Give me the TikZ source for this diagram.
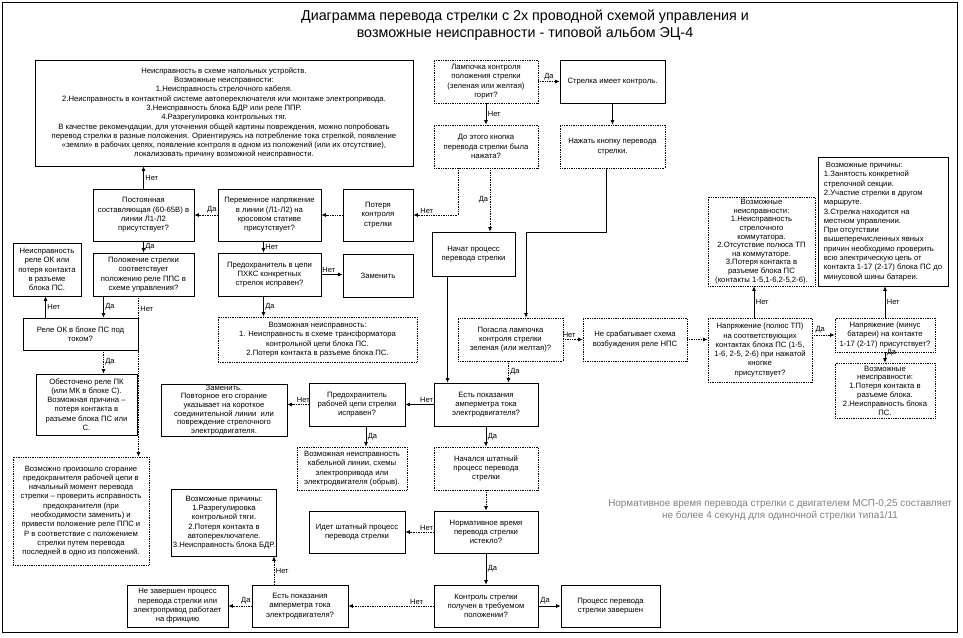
\documentclass[tikz,border=0pt]{standalone}
\usepackage{fontspec}
\setmainfont{Liberation Sans}
\usetikzlibrary{arrows.meta,calc}
\newcommand\bx[7]{%
 \pgfmathsetmacro\bxw{#4-#2}\pgfmathsetmacro\bxh{#5-#3}%
 \node[#6, minimum width=\bxw pt, minimum height=\bxh pt] (#1) at ({(#2+#4)/2},{(#3+#5)/2}) {#7};}
\begin{document}
\begin{tikzpicture}[x=1pt,y=-1pt,
  every node/.style={font=\fontsize{7.7}{9.3}\selectfont},
  sbox/.style={draw, line width=0.75pt, align=center, inner sep=1pt},
  dbox/.style={draw, line width=0.75pt, densely dotted, align=center, inner sep=1pt},
  sarr/.style={line width=0.7pt, -{Latex[length=4.5pt,width=4pt]}},
  darr/.style={line width=0.7pt, densely dotted, -{Latex[length=4.5pt,width=4pt]}},
  lab/.style={font=\fontsize{7.5}{8}\selectfont, inner sep=1.5pt}]
\useasboundingbox (0,0) rectangle (963,637);
\draw[line width=0.8pt] (2,2) rectangle (957,632);
\node[font=\fontsize{14.3}{16.5}\selectfont, align=center] (title) at (525,25) {Диаграмма перевода стрелки с 2х проводной схемой управления и\\возможные неисправности - типовой альбом ЭЦ-4};

\bx{A}{35}{60}{413}{166}{sbox}{Неисправность в схеме напольных устройств.\\Возможные неисправности:\\1.Неисправность стрелочного кабеля.\\2.Неисправность в контактной системе автопереключателя или монтаже электропривода.\\3.Неисправность блока БДР или реле ППР.\\4.Разрегулировка контрольных тяг.\\В качестве рекомендации, для уточнения общей картины повреждения, можно попробовать\\перевод стрелки в разные положения. Ориентируясь на потребление тока стрелкой, появление\\«земли» в рабочих цепях, появление контроля в одном из положений (или их отсутствие),\\локализовать причину возможной неисправности.}
\bx{Z1}{434}{60}{538}{103}{dbox}{Лампочка контроля\\положения стрелки\\(зеленая или желтая)\\горит?}
\bx{Z2}{560}{60}{665}{103}{sbox}{Стрелка имеет контроль.}
\bx{Z3}{434}{125}{538}{168}{dbox}{До этого кнопка\\перевода стрелки была\\нажата?}
\bx{Z4}{560}{125}{665}{168}{dbox}{Нажать кнопку перевода\\стрелки.}
\bx{B}{93}{189}{194}{241}{sbox}{Постоянная\\составляющая (60-65В) в\\линии Л1-Л2\\присутствует?}
\bx{C}{218}{189}{321}{241}{sbox}{Переменное напряжение\\в линии (Л1-Л2) на\\кросовом стативе\\присутствует?}
\bx{D}{343}{189}{413}{241}{sbox}{Потеря\\контроля\\стрелки}
\bx{AA}{432}{232}{515}{276}{sbox}{Начат процесс\\перевода стрелки}
\bx{E}{13}{243}{81}{296}{sbox}{Неисправность\\реле ОК или\\потеря контакта\\в разъеме\\блока ПС.}
\bx{F}{93}{253}{194}{296}{sbox}{Положение стрелки\\соответствует\\положению реле ППС в\\схеме управления?}
\bx{G}{218}{253}{321}{296}{sbox}{Предохранитель в цепи\\ПХКС конкретных\\стрелок исправен?}
\bx{H}{343}{254}{413}{297}{sbox}{Заменить}
\bx{I}{23}{318}{138}{350}{sbox}{Реле ОК в блоке ПС под\\током?}
\bx{J}{218}{317}{417}{362}{dbox}{Возможная неисправность:\\1. Неисправность в схеме трансформатора\\контрольной цепи блока ПС.\\2.Потеря контакта в разъеме блока ПС.}
\bx{O}{458}{318}{563}{361}{dbox}{Погасла лампочка\\контроля стрелки\\зеленая (или желтая)?}
\bx{P}{583}{318}{687}{361}{dbox}{Не срабатывает схема\\возбуждения реле НПС}
\bx{BB}{708}{318}{812}{382}{dbox}{Напряжение (полюс ТП)\\на соответствующих\\контактах блока ПС (1-5,\\1-6, 2-5, 2-6) при нажатой\\кнопке\\присутствует?}
\bx{CC}{708}{197}{815}{286}{dbox, font=\fontsize{7.7}{8.6}\selectfont}{Возможные\\неисправности:\\1.Неисправность\\стрелочного\\коммутатора.\\2.Отсутствие полюса ТП\\на коммутаторе.\\3.Потеря контакта в\\разъеме блока ПС\\(контакты 1-5,1-6,2-5,2-6).}
\bx{DD}{835}{318}{935}{352}{dbox}{Напряжение (минус\\батареи) на контакте\\1-17 (2-17) присутствует?}
\bx{EE}{818}{157}{948}{286}{sbox, align=left}{\hspace*{2pt}Возможные причины:\\1.Занятость конкретной\\стрелочной секции.\\2.Участие стрелки в другом\\маршруте.\\3.Стрелка находится на\\местном управлении.\\При отсутствии\\вышеперечисленных явных\\причин необходимо проверить\\всю электрическую цепь от\\контакта 1-17 (2-17) блока ПС до\\минусовой шины батареи.}
\bx{FF}{835}{363}{935}{418}{dbox, font=\fontsize{7.7}{8.8}\selectfont}{Возможные\\неисправности:\\1.Потеря контакта в\\разъеме блока.\\2.Неисправность блока\\ПС.}
\bx{K}{36}{374}{137}{435}{sbox}{Обесточено реле ПК\\(или МК в блоке С).\\Возможная причина –\\потеря контакта в\\разъеме блока ПС или\\С.}
\bx{L}{161}{384}{287}{436}{sbox, font=\fontsize{7.7}{8.6}\selectfont}{Заменить.\\Повторное его сгорание\\указывает на короткое\\соединительной линии~ или\\повреждение стрелочного\\электродвигателя.}
\bx{M}{309}{383}{405}{426}{sbox}{Предохранитель\\рабочей цепи стрелки\\исправен?}
\bx{N}{434}{383}{538}{426}{sbox}{Есть показания\\амперметра тока\\электродвигателя?}
\bx{Q}{297}{447}{407}{490}{dbox}{Возможная неисправность\\кабельной линии, схемы\\электропривода или\\электродвигателя (обрыв).}
\bx{R}{434}{447}{538}{490}{dbox}{Начался штатный\\процесс перевода\\стрелки}
\bx{GG}{13}{457}{149}{565}{dbox}{Возможно произошло сгорание\\предохранителя рабочей цепи в\\начальный момент перевода\\стрелки – проверить исправность\\предохранителя (при\\необходимости заменить) и\\привести положение реле ППС и\\Р в соответствие с положением\\стрелки путем перевода\\последней в одно из положений.}
\bx{S}{172}{489}{276}{556}{sbox}{Возможные причины:\\1.Разрегулировка\\контрольной тяги.\\2.Потеря контакта в\\автопереключателе.\\3.Неисправность блока БДР.}
\bx{T}{309}{511}{405}{553}{sbox}{Идет штатный процесс\\перевода стрелки}
\bx{U}{434}{511}{538}{553}{sbox}{Нормативное время\\перевода стрелки\\истекло?}
\bx{V}{434}{585}{538}{627}{sbox}{Контроль стрелки\\получен в требуемом\\положении?}
\bx{W}{561}{585}{660}{627}{sbox}{Процесс перевода\\стрелки завершен}
\bx{X}{252}{585}{348}{627}{sbox}{Есть показания\\амперметра тока\\электродвигателя?}
\bx{Y}{127}{585}{228}{627}{sbox}{Не завершен процесс\\перевода стрелки или\\электропривод работает\\на фрикцию}
\node[font=\fontsize{9.9}{12.5}\selectfont, text=black!50, align=center] (note) at (780,510) {Нормативное время перевода стрелки с двигателем МСП-0,25 составляет\\не более 4 секунд для одиночной стрелки типа1/11};

% connectors
\draw[darr] (Z1.east) -- node[lab,above]{Да} (Z2.west);
\draw[sarr] (Z1.south) -- node[lab,right]{Нет} (Z3.north);
\draw[sarr] (Z2.south) -- (Z4.north);
\coordinate (z3a) at ([xshift=-28pt]Z3.south);
\draw[darr] (z3a) |- node[lab,above,pos=0.85]{Нет} (D.east);
\coordinate (z3b) at ([xshift=4pt]Z3.south);
\draw[darr] (z3b) -- node[lab,left]{Да} (z3b |- AA.north);
\coordinate (z4a) at ([xshift=-6pt]Z4.south);
\coordinate (bend1) at (526,232);
\draw[sarr] (z4a) |- (bend1) -- (bend1 |- O.north);
\coordinate (aa1) at ([xshift=-26pt]AA.south);
\draw[sarr] (aa1) -- (aa1 |- N.north);
\coordinate (o1) at ([xshift=-2pt]O.south);
\draw[darr] (o1) -- node[lab,right]{Да} (o1 |- N.north);
\draw[darr] (O.east) -- node[lab,above,pos=0.3]{Нет} (P.west);
\draw[darr] (P.east) -- (P.east -| BB.west);
\coordinate (bb1) at ([xshift=-6pt]BB.north);
\draw[sarr] (bb1) -- node[lab,right]{Нет} (bb1 |- CC.south);
\coordinate (dd1) at (DD.west -| BB.east);
\draw[darr] (dd1) -- node[lab,above,pos=0.35]{Да} (DD.west);
\draw[sarr] (DD.north) -- node[lab,right]{Нет} (DD.north |- EE.south);
\draw[sarr] (DD.south) -- node[lab,right,pos=0.1,yshift=1pt]{Да} (FF.north);

\draw[darr] (D.west) -- (C.east);
\draw[darr] (C.west) -- node[lab,above,pos=0.25]{Да} (B.east);
\draw[sarr] (B.north) -- node[lab,right]{Нет} (B.north |- A.south);
\draw[sarr] (B.south) -- node[lab,right]{Да} (F.north);
\coordinate (c1) at ([xshift=-6pt]C.south);
\draw[sarr] (c1) -- node[lab,right]{Нет} (c1 |- G.north);
\draw[sarr] (G.east) -- node[lab,above,pos=0.35]{Нет} (G.east -| H.west);
\coordinate (g1) at ([xshift=-6pt]G.south);
\draw[sarr] (g1) -- node[lab,right]{Да} (g1 |- J.north);
\coordinate (f1) at ([xshift=-40pt]F.south);
\draw[sarr] (f1) -- node[lab,right]{Да} (f1 |- I.north);
\coordinate (i1) at ([xshift=-35pt]I.north);
\draw[sarr] (i1) -- node[lab,right]{Нет} (i1 |- E.south);
\coordinate (f2) at ([xshift=-5pt]F.south);
\draw[darr] (f2) -- node[lab,right,pos=0.08]{Нет} (f2 |- GG.north);
\coordinate (i2) at ([xshift=23pt]I.south);
\draw[darr] (i2) -- node[lab,right]{Да} (i2 |- K.north);

\draw[sarr] (N.west) -- node[lab,above,pos=0.25]{Нет} (M.east);
\draw[darr] (M.west) -- node[lab,above,pos=0.25]{Нет} (M.west -| L.east);
\coordinate (m1) at ([xshift=9pt]M.south);
\draw[sarr] (m1) -- node[lab,right]{Да} (m1 |- Q.north);
\draw[sarr] (N.south) -- node[lab,right]{Да} (R.north);
\draw[darr] (R.south) -- (U.north);
\draw[darr] (U.west) -- node[lab,above,pos=0.25]{Нет} (T.east);
\draw[sarr] (U.south) -- node[lab,right]{Да} (V.north);
\draw[sarr] (V.east) -- node[lab,above,pos=0.3]{Да} (W.west);
\draw[darr] (V.west) -- node[lab,above,pos=0.2]{Нет} (X.east);
\draw[darr] (X.west) -- node[lab,above,pos=0.25]{Да} (Y.east);
\coordinate (x1) at ([xshift=-26pt]X.north);
\draw[darr] (x1) -- node[lab,right]{Нет} (x1 |- S.south);
\end{tikzpicture}
\end{document}
